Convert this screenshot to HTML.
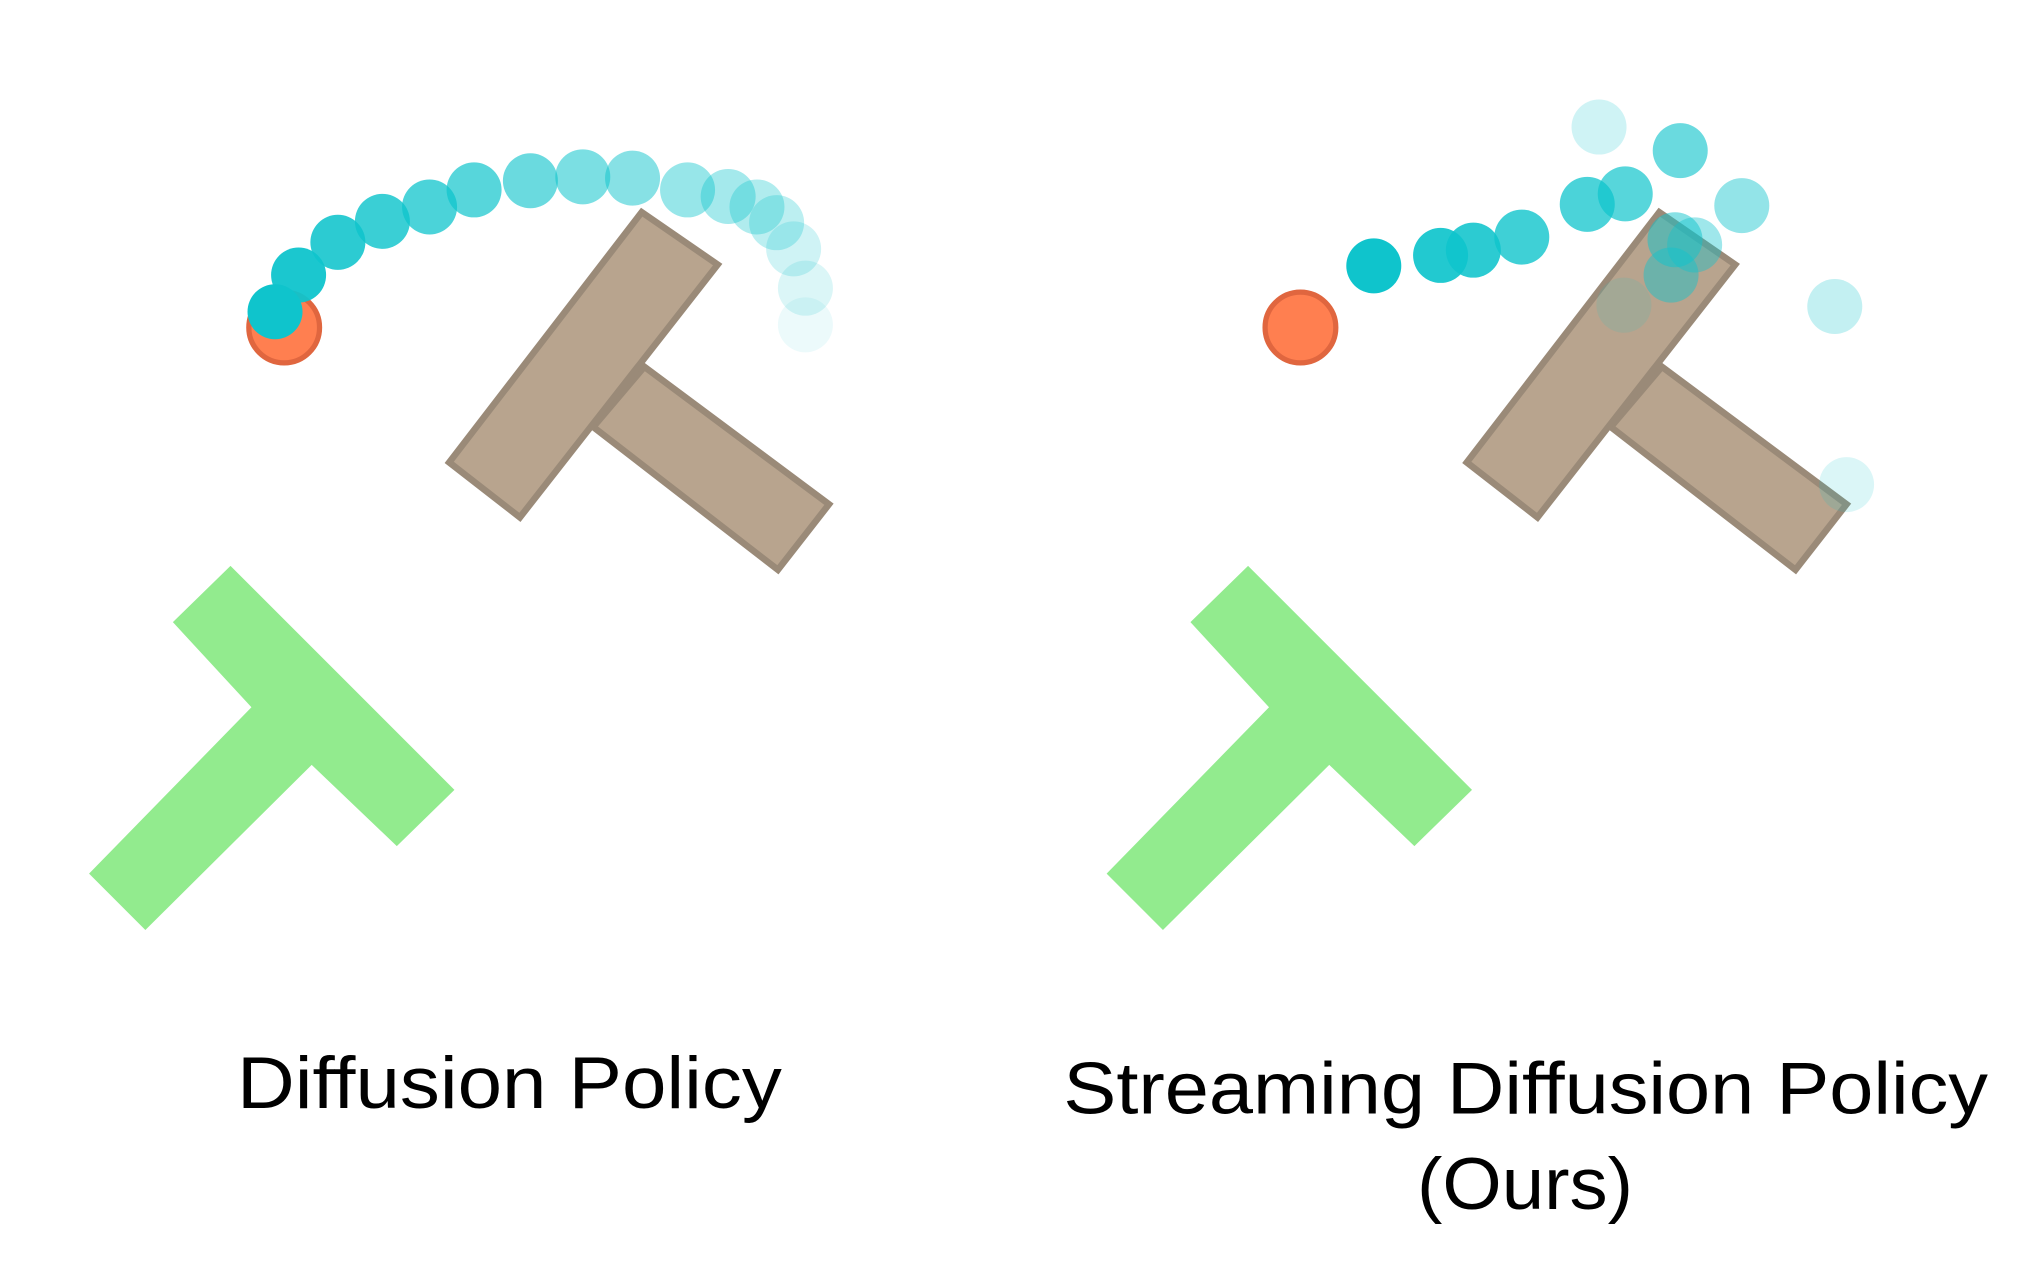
<!DOCTYPE html>
<html><head><meta charset="utf-8"><style>html,body{margin:0;padding:0;background:#fff;}svg{display:block}</style></head>
<body>
<svg width="2043" height="1281" viewBox="0 0 1560 978" preserveAspectRatio="none" xmlns="http://www.w3.org/2000/svg">
<rect width="1560" height="978" fill="#fff"/>
<g id="L">
<polygon points="176,432 347,603 303,646 238,584 111,710 68,667 192,540 132,475" fill="#92eb8e"/>
<g fill="#b8a48e" stroke="#9a8a78" stroke-width="5" stroke-linejoin="miter">
<polygon points="492,280 633,385 594,435 453,326"/>
<polygon points="490,162 548,202 397,395 343,353"/>
</g>
</g>
<circle cx="217" cy="250" r="27" fill="#ff7f50" stroke="#e0663f" stroke-width="4"/>
<g fill="#0fc4cc">
<circle cx="615" cy="248" r="21" opacity="0.08"/>
<circle cx="615" cy="220" r="21" opacity="0.15"/>
<circle cx="606" cy="190" r="21" opacity="0.2"/>
<circle cx="593" cy="170" r="21" opacity="0.28"/>
<circle cx="578" cy="158" r="21" opacity="0.33"/>
<circle cx="556" cy="150" r="21" opacity="0.38"/>
<circle cx="525" cy="145" r="21" opacity="0.43"/>
<circle cx="483" cy="136" r="21" opacity="0.5"/>
<circle cx="445" cy="135" r="21" opacity="0.55"/>
<circle cx="405" cy="138" r="21" opacity="0.62"/>
<circle cx="362" cy="145" r="21" opacity="0.7"/>
<circle cx="328" cy="158" r="21" opacity="0.75"/>
<circle cx="292" cy="169" r="21" opacity="0.82"/>
<circle cx="258" cy="185" r="21" opacity="0.88"/>
<circle cx="228" cy="210" r="21" opacity="0.95"/>
<circle cx="210" cy="238" r="21" opacity="1"/>
</g>
<use href="#L" x="777" y="0"/>
<circle cx="993" cy="250" r="27" fill="#ff7f50" stroke="#e0663f" stroke-width="4"/>
<g fill="#0fc4cc">
<circle cx="1221" cy="97" r="21" opacity="0.2"/>
<circle cx="1240" cy="233" r="21" opacity="0.12"/>
<circle cx="1401" cy="234" r="21" opacity="0.25"/>
<circle cx="1410" cy="370" r="21" opacity="0.15"/>
<circle cx="1330" cy="157" r="21" opacity="0.45"/>
<circle cx="1276" cy="210" r="21" opacity="0.45"/>
<circle cx="1294" cy="187" r="21" opacity="0.4"/>
<circle cx="1279" cy="183" r="21" opacity="0.5"/>
<circle cx="1283" cy="115" r="21" opacity="0.62"/>
<circle cx="1241" cy="148" r="21" opacity="0.7"/>
<circle cx="1212" cy="156" r="21" opacity="0.75"/>
<circle cx="1162" cy="181" r="21" opacity="0.8"/>
<circle cx="1125" cy="191" r="21" opacity="0.88"/>
<circle cx="1100" cy="195" r="21" opacity="0.92"/>
<circle cx="1049" cy="203" r="21" opacity="1"/>
</g>
<g font-family="Liberation Sans, sans-serif" font-size="56" fill="#000">
<text x="181" y="846" textLength="416" lengthAdjust="spacingAndGlyphs">Diffusion Policy</text>
<text x="812" y="850" textLength="706" lengthAdjust="spacingAndGlyphs">Streaming Diffusion Policy</text>
<text x="1082" y="923" textLength="165" lengthAdjust="spacingAndGlyphs">(Ours)</text>
</g>
</svg>
</body></html>
